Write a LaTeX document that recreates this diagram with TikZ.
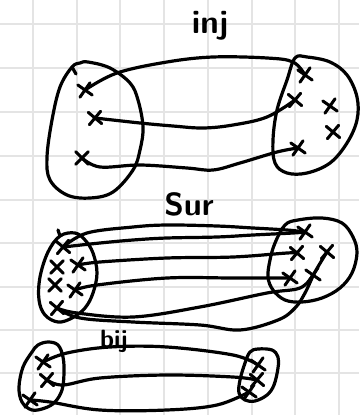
\documentclass[tikz,border=0pt]{standalone}
\usetikzlibrary{shapes.misc}
\definecolor{gridgray}{HTML}{E4E4E4}
\begin{document}
\begin{tikzpicture}[x=1pt,y=-1pt,
  gridline/.style={draw=gridgray,line width=1.3pt},
  ink/.style={draw=black,line width=3.2pt,line cap=round,line join=round},
  xmark/.style={cross out,draw=black,line width=3pt,minimum size=9.5pt,inner sep=0pt,line cap=round},
  lbl/.style={font=\sffamily\bfseries,inner sep=0pt}]
\useasboundingbox[fill=white] (0,0) rectangle (359,415);
% grid
\foreach \gx in {33,77,120,164,208,252,295,339} \draw[gridline] (\gx,0) -- (\gx,415);
\foreach \gy in {24,68,112,156,200,243,287,330,373} \draw[gridline] (0,\gy) -- (359,\gy);

% ---------- inj ----------
\node[lbl,font=\sffamily\bfseries\fontsize{33}{33}\selectfont,anchor=base] (tinj) at (210,34) {inj};
\draw[ink] plot[smooth cycle,tension=0.6] coordinates {(80,63) (88,62) (110,68) (130,83) (138,100) (143,127) (140,150) (133,170) (113,192) (90,198) (67,195) (50,180) (47,157) (52,120) (60,87) (72,67)};
\draw[ink] (72,67) -- (76,74);
\draw[ink] plot[smooth cycle,tension=0.6] coordinates {(295,58) (307,57) (330,62) (347,75) (357,97) (357,120) (347,143) (330,163) (307,173) (287,173) (275,163) (273,140) (277,110) (287,80)};
\node[xmark,rotate=10] (a1) at (85,90) {};
\node[xmark,rotate=5] (a2) at (95,118) {};
\node[xmark,rotate=0] (a3) at (82,158) {};
\node[xmark,rotate=10] (b1) at (305,75) {};
\node[xmark,rotate=5] (b2) at (295,100) {};
\node[xmark,rotate=10] (b3) at (330,106) {};
\node[xmark,rotate=5] (b4) at (333,132) {};
\node[xmark,rotate=10] (b5) at (298,148) {};
\draw[ink] plot[smooth,tension=0.6] coordinates {(a1.center) (117,73) (167,62) (213,57) (267,58) (293,62) (b1.center)};
\draw[ink] plot[smooth,tension=0.6] coordinates {(a2.center) (140,123) (173,126) (203,128) (233,125) (267,117) (b2.center)};
\draw[ink] plot[smooth,tension=0.6] coordinates {(a3.center) (100,167) (140,165) (187,168) (213,170) (240,163) (277,152) (b5.center)};

% ---------- sur ----------
\node[lbl,font=\sffamily\bfseries\fontsize{32}{32}\selectfont,anchor=base] (tsur) at (189,215) {Sur};
\draw[ink] plot[smooth cycle,tension=0.6] coordinates {(60,236) (48,252) (40,277) (39,300) (45,315) (58,322) (72,318) (85,308) (93,293) (97,273) (93,253) (85,240) (75,233)};
\draw[ink] (60,236) -- (58,230);
\draw[ink] plot[smooth cycle,tension=0.6] coordinates {(285,225) (298,220) (322,218) (342,223) (353,237) (357,253) (352,273) (340,288) (322,298) (302,302) (285,300) (273,290) (268,277) (270,260) (275,243)};
\node[xmark,rotate=5] (c1) at (63,247) {};
\node[xmark] (c2) at (57,267) {};
\node[xmark,rotate=10] (c3) at (78,265) {};
\node[xmark] (c4) at (55,285) {};
\node[xmark,rotate=10] (c5) at (75,290) {};
\node[xmark,rotate=5] (c6) at (57,308) {};
\node[xmark,rotate=10] (d1) at (305,232) {};
\node[xmark,rotate=5] (d2) at (297,253) {};
\node[xmark,rotate=10] (d3) at (290,278) {};
\node[xmark,rotate=5] (d4) at (327,252) {};
\node[xmark,rotate=10] (d5) at (313,275) {};
\draw[ink] plot[smooth,tension=0.6] coordinates {(c1.center) (87,233) (133,227) (167,225) (217,226) (253,228) (287,230) (d1.center)};
\draw[ink] plot[smooth,tension=0.6] coordinates {(c1.center) (100,243) (133,240) (167,238) (217,237) (253,235) (293,233) (d1.center)};
\draw[ink] plot[smooth,tension=0.6] coordinates {(c3.center) (100,262) (167,258) (233,257) (287,253) (d2.center)};
\draw[ink] plot[smooth,tension=0.6] coordinates {(c5.center) (97,285) (167,278) (233,278) (d3.center)};
\draw[ink] plot[smooth,tension=0.6] coordinates {(c6.center) (77,313) (133,317) (200,307) (267,293) (300,288) (d5.center)};
\draw[ink] plot[smooth,tension=0.6] coordinates {(d4.center) (315,272) (305,293) (295,308) (278,320) (240,330) (200,325) (133,322) (80,318) (c6.center)};

% ---------- bij ----------
\node[lbl,font=\sffamily\bfseries\fontsize{25}{25}\selectfont,anchor=base] (tbij) at (114,347) {bij};
\draw[ink] plot[smooth cycle,tension=0.6] coordinates {(38,345) (48,342) (58,345) (63,357) (64,373) (62,390) (55,402) (45,408) (32,410) (22,402) (19,387) (23,367) (32,352)};
\draw[ink] plot[smooth cycle,tension=0.6] coordinates {(250,352) (258,349) (272,350) (278,357) (278,368) (274,385) (267,395) (255,401) (245,400) (239,393) (240,380) (245,363)};
\node[xmark,rotate=10] (e1) at (43,362) {};
\node[xmark,rotate=5] (e2) at (47,380) {};
\node[xmark,rotate=10] (e3) at (30,400) {};
\node[xmark,rotate=10] (f1) at (258,365) {};
\node[xmark,rotate=5] (f2) at (257,380) {};
\node[xmark,rotate=10] (f3) at (249,392) {};
\draw[ink] plot[smooth,tension=0.6] coordinates {(e1.center) (67,353) (110,347) (167,347) (233,355) (f1.center)};
\draw[ink] plot[smooth,tension=0.6] coordinates {(e2.center) (63,385) (100,378) (167,375) (233,377) (f2.center)};
\draw[ink] plot[smooth,tension=0.6] coordinates {(e3.center) (50,402) (100,410) (167,410) (217,405) (f3.center)};
\end{tikzpicture}
\end{document}
